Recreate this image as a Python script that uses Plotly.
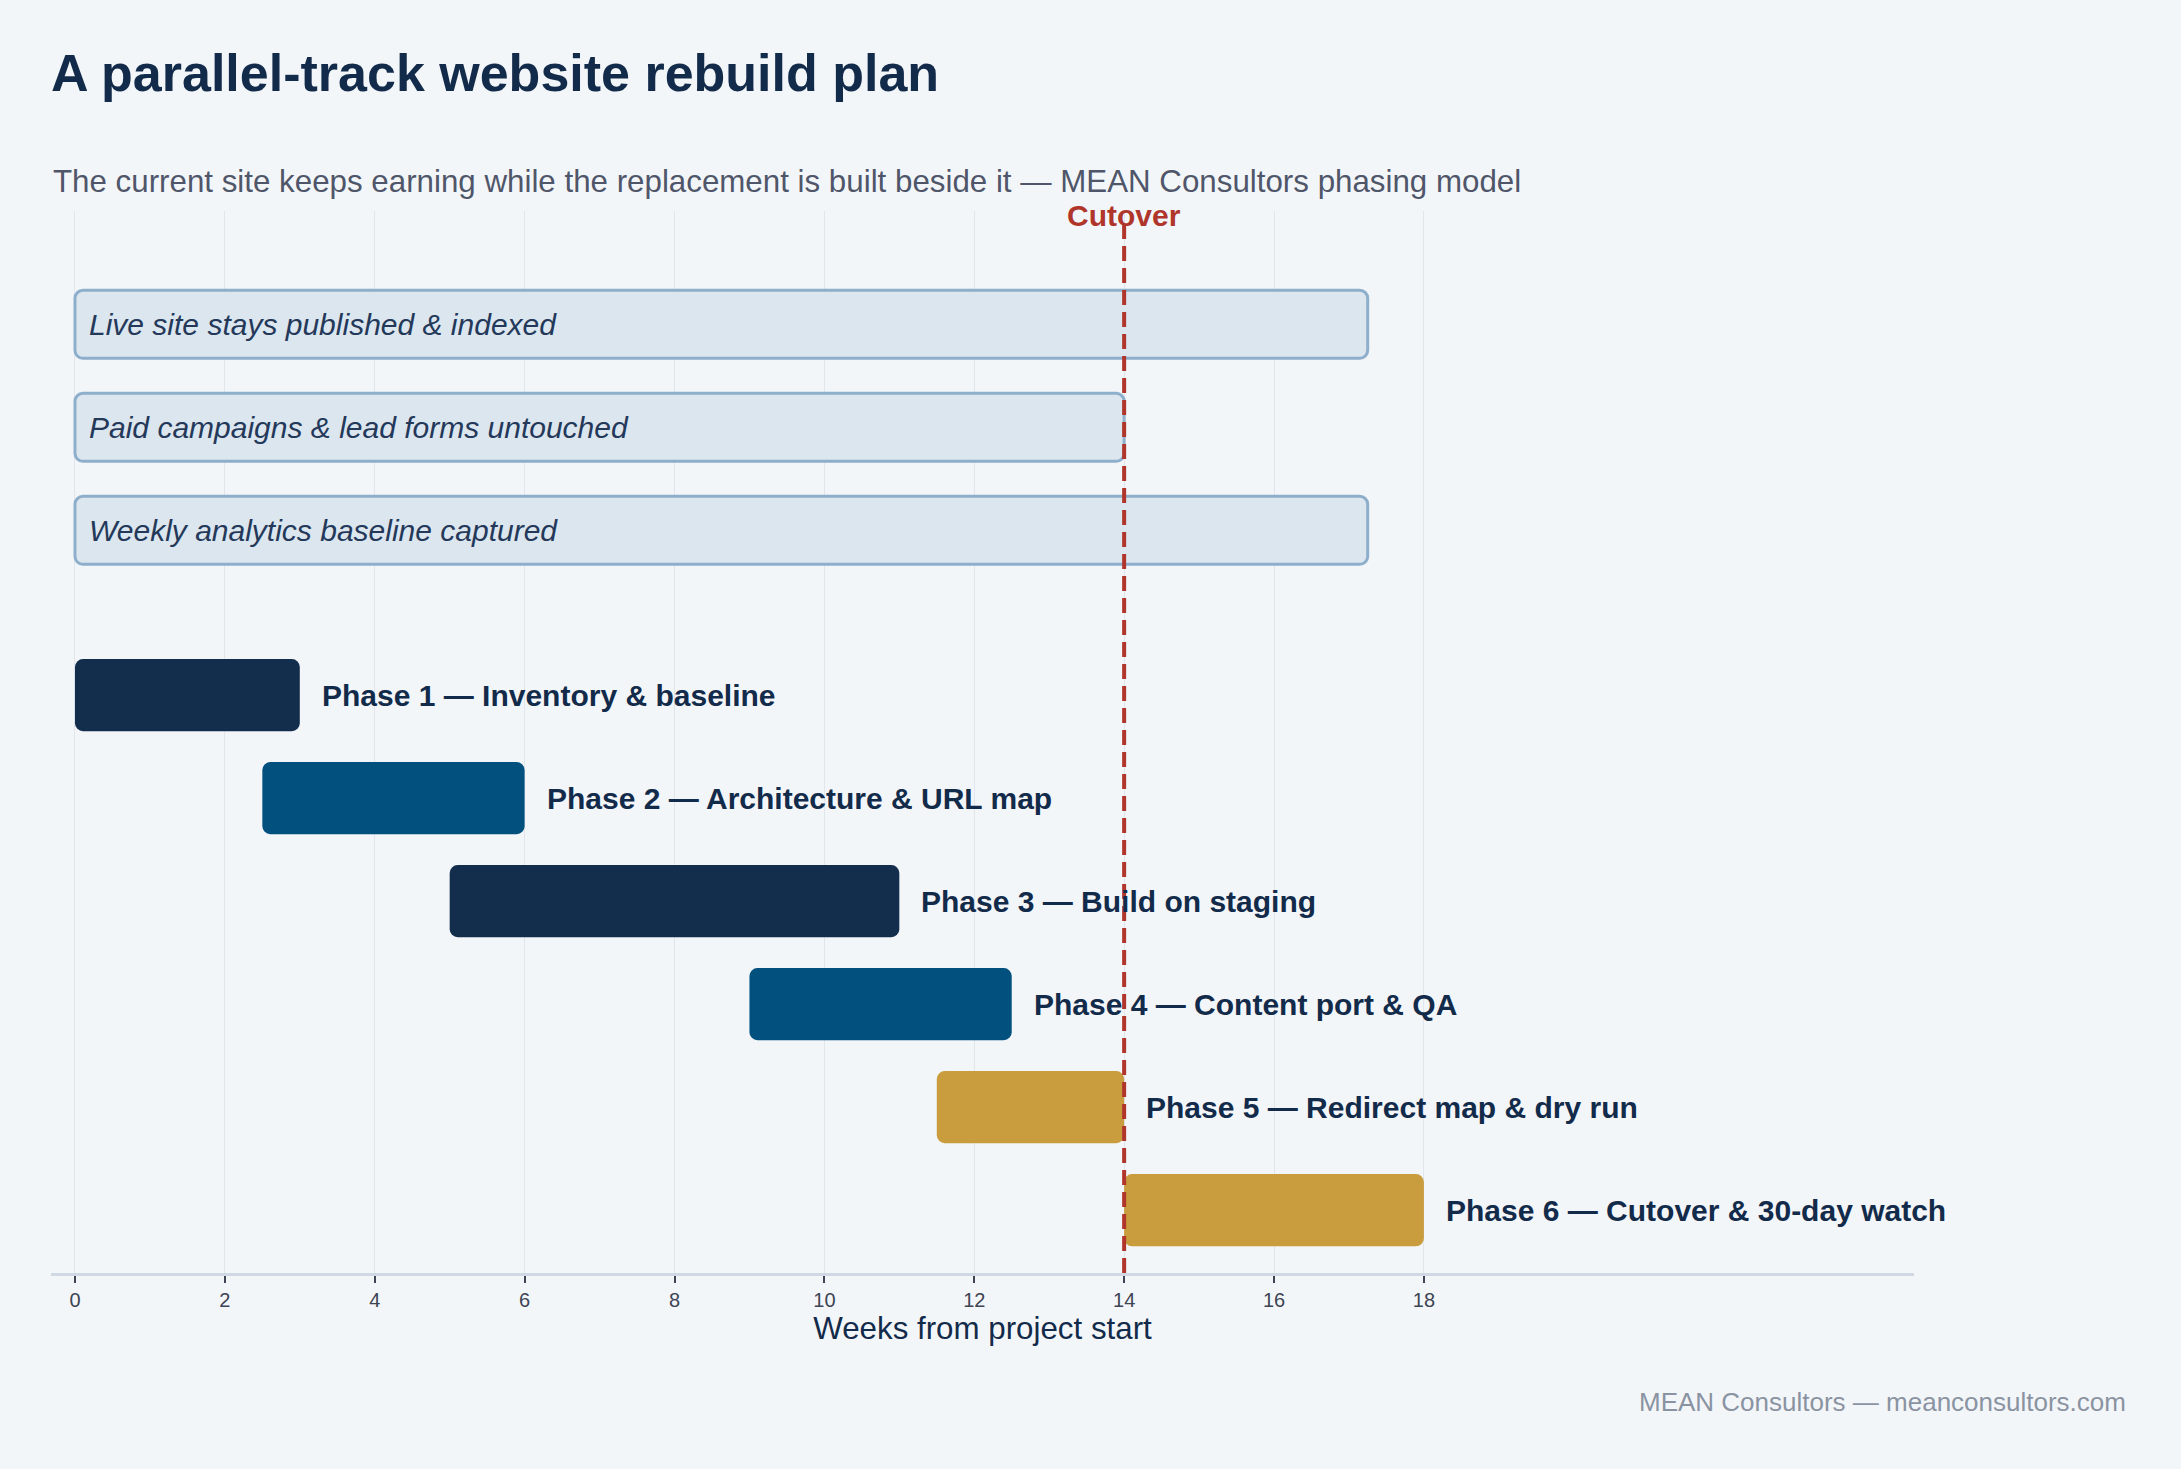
import plotly.graph_objects as go

# ---------------- data ----------------
track_labels = [
    "Live site stays published & indexed",
    "Paid campaigns & lead forms untouched",
    "Weekly analytics baseline captured",
]
track_start = [0, 0, 0]
track_end = [17.25, 14, 17.25]
track_pos = [8.6, 7.6, 6.6]

phase_labels = [
    "Phase 1 — Inventory & baseline",
    "Phase 2 — Architecture & URL map",
    "Phase 3 — Build on staging",
    "Phase 4 — Content port & QA",
    "Phase 5 — Redirect map & dry run",
    "Phase 6 — Cutover & 30-day watch",
]
phase_start = [0, 2.5, 5, 9, 11.5, 14]
phase_end = [3, 6, 11, 12.5, 14, 18]
phase_pos = [5, 4, 3, 2, 1, 0]
phase_colors = ["#132D4C", "#02507E", "#132D4C", "#02507E", "#C99C3D", "#C99C3D"]

cutover_week = 14
tick_vals = [0, 2, 4, 6, 8, 10, 12, 14, 16, 18]

# ---------------- style ----------------
FONT = "Liberation Sans, Arial, sans-serif"
NAVY = "#132B4A"
BG = "#F3F6F9"
RED = "#B0362C"

fig = go.Figure()

fig.add_trace(go.Bar(
    orientation="h",
    y=track_pos,
    base=track_start,
    x=[e - s for s, e in zip(track_start, track_end)],
    width=0.66,
    marker=dict(color="#DCE6EF", line=dict(color="#8EAFCC", width=3)),
    hoverinfo="skip",
    showlegend=False,
))

fig.add_trace(go.Bar(
    orientation="h",
    y=phase_pos,
    base=phase_start,
    x=[e - s for s, e in zip(phase_start, phase_end)],
    width=0.7,
    marker=dict(color=phase_colors, line=dict(width=0)),
    hoverinfo="skip",
    showlegend=False,
))

annotations = []
for lab, s, p in zip(track_labels, track_start, track_pos):
    annotations.append(dict(
        x=s, y=p, xref="x", yref="y", text=lab, showarrow=False,
        xanchor="left", yanchor="middle", xshift=12,
        font=dict(family=FONT, size=30, color="#24395A", style="italic"),
    ))
for lab, e, p in zip(phase_labels, phase_end, phase_pos):
    annotations.append(dict(
        x=e, y=p, xref="x", yref="y", text="<b>" + lab + "</b>", showarrow=False,
        xanchor="left", yanchor="middle", xshift=20,
        font=dict(family=FONT, size=30, color=NAVY),
    ))

# Cutover label
annotations.append(dict(
    x=cutover_week, y=0.9955, xref="x", yref="paper", text="<b>Cutover</b>",
    showarrow=False, xanchor="center", yanchor="middle",
    font=dict(family=FONT, size=30, color=RED),
))
# Subtitle
annotations.append(dict(
    x=0, y=1.028, xref="paper", yref="paper",
    text="The current site keeps earning while the replacement is built beside it — MEAN Consultors phasing model",
    showarrow=False, xanchor="left", yanchor="middle",
    font=dict(family=FONT, size=31.3, color="#50566A"),
))
# Footer
annotations.append(dict(
    x=1.115, y=-0.1215, xref="paper", yref="paper",
    text="MEAN Consultors — meanconsultors.com",
    showarrow=False, xanchor="right", yanchor="middle",
    font=dict(family=FONT, size=26, color="#8A93A1"),
))

fig.add_shape(
    type="line", x0=cutover_week, x1=cutover_week, xref="x",
    y0=0, y1=0.99, yref="paper",
    line=dict(color=RED, width=4, dash="15px,7px"),
    layer="above",
)

fig.update_layout(
    width=2181, height=1469,
    paper_bgcolor=BG, plot_bgcolor=BG,
    margin=dict(l=51, r=267, t=211, b=196),
    barmode="overlay",
    barcornerradius=8,
    title=dict(
        text="<b>A parallel-track website rebuild plan</b>",
        x=51 / 2181, xanchor="left", xref="container",
        y=1 - 73 / 1469, yanchor="middle", yref="container",
        font=dict(family=FONT, size=52, color=NAVY),
    ),
    annotations=annotations,
    xaxis=dict(
        range=[-0.32, 24.54],
        tickvals=tick_vals,
        ticktext=[str(v) for v in tick_vals],
        showgrid=True, gridcolor="#E1E6EC", gridwidth=1.2,
        zeroline=False,
        showline=True, linecolor="#D0D9E3", linewidth=2.5,
        ticks="outside", ticklen=7, tickwidth=1.5, tickcolor="#3D4453",
        tickfont=dict(family=FONT, size=20, color="#3D4453"),
        title=dict(text="Weeks from project start", standoff=8,
                   font=dict(family=FONT, size=31.3, color=NAVY)),
        fixedrange=True,
    ),
    yaxis=dict(
        range=[-0.61, 9.7],
        showgrid=False, zeroline=False, showticklabels=False, showline=False,
        fixedrange=True,
    ),
    font=dict(family=FONT),
)

fig.write_html(
    "out.html",
    config={"displayModeBar": False},
    post_script="document.body.style.margin='0';document.body.style.overflow='hidden';",
)
